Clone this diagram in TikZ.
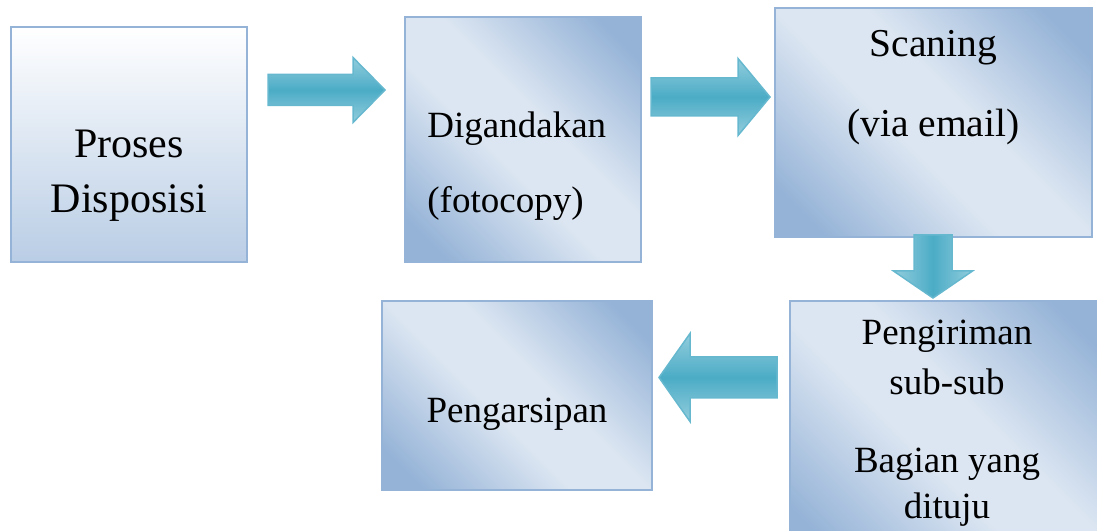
\documentclass[tikz,border=0pt]{standalone}
\usepackage{fontspec}
\setmainfont{Liberation Serif}
\usetikzlibrary{calc}

\definecolor{boxedge}{HTML}{95B3D7}
\definecolor{boxdark}{HTML}{95B3D7}
\definecolor{boxlight}{HTML}{DCE6F2}
\definecolor{boxlow}{HTML}{B9CDE5}
\definecolor{arrowmid}{HTML}{4BACC6}
\definecolor{arrowlight}{HTML}{93CDDD}

% dark corners, wide light band
\pgfdeclareverticalshading{diagshade}{100bp}{color(0bp)=(boxdark); color(21bp)=(boxdark); color(44bp)=(boxlight); color(56bp)=(boxlight); color(79bp)=(boxdark); color(100bp)=(boxdark)}

\tikzset{
  box/.style={rectangle, draw=boxedge, line width=1pt, inner sep=0pt},
  fadebox/.style={box, top color=white, bottom color=boxlow},
  diagbox/.style={box, shade, shading=diagshade, shading angle=-45},
  txt/.style={anchor=base, inner sep=0pt, font=\fontsize{18.5}{18.5}\selectfont},
  fatarrow/.style={draw=arrowmid!85!white, line width=0.75pt, top color=arrowlight, bottom color=arrowlight, middle color=arrowmid},
  fatarrow down/.style={draw=arrowmid!85!white, line width=0.75pt, left color=arrowlight, right color=arrowlight, middle color=arrowmid}
}

\begin{document}
\begin{tikzpicture}[x=0.5pt, y=0.5pt]
\clip (0,0) rectangle (1097,530);
% boxes
\node[fadebox, minimum width=118pt, minimum height=117.5pt] (disp) at (129,385.5) {};
\node[diagbox, minimum width=118pt, minimum height=122.5pt] (ganda) at (523,390.5) {};
\node[diagbox, minimum width=158.5pt, minimum height=114.5pt] (scan) at (933.5,407.5) {};
\node[diagbox, minimum width=157pt, minimum height=129.5pt] (kirim) at (947,99.5) {};
\node[diagbox, minimum width=135pt, minimum height=94.5pt] (arsip) at (517,134.5) {};
% texts
\node[txt, font=\fontsize{21}{21}\selectfont] (disp1) at (129,372) {Proses};
\node[txt, font=\fontsize{21}{21}\selectfont] (disp2) at (129,317) {Disposisi};
\node[txt, anchor=base west] (ganda1) at (427,392) {Digandakan};
\node[txt, anchor=base west] (ganda2) at (427,317) {(fotocopy)};
\node[txt, font=\fontsize{19.75}{19.75}\selectfont] (scan1) at (933.5,473) {Scaning};
\node[txt, font=\fontsize{19.75}{19.75}\selectfont] (scan2) at (933.5,393) {(via email)};
\node[txt] (kirim1) at (947,185) {Pengiriman};
\node[txt] (kirim2) at (947,135) {sub-sub};
\node[txt] (kirim3) at (947,58) {Bagian yang};
\node[txt] (kirim4) at (947,12) {dituju};
\node[txt] (arsip1) at (517,107) {Pengarsipan};
% block arrows
\coordinate (a1) at (268,440);
\coordinate (a2) at (651,433);
\coordinate (a3) at (933,295);
\coordinate (a4) at (777,152.5);
\shade[fatarrow] (a1) -- ++(0,15.5) -- ++(85,0) -- ++(0,17) -- ++(32,-32.5) -- ++(-32,-32.5) -- ++(0,17) -- ++(-85,0) -- cycle;
\shade[fatarrow] (a2) -- ++(0,19) -- ++(87,0) -- ++(0,19.5) -- ++(32,-38.5) -- ++(-32,-38.5) -- ++(0,19.5) -- ++(-87,0) -- cycle;
\shade[fatarrow down] (a3) -- ++(19,0) -- ++(0,-36) -- ++(20.5,0) -- ++(-39.5,-27) -- ++(-39.5,27) -- ++(20.5,0) -- ++(0,36) -- cycle;
\shade[fatarrow] (a4) -- ++(0,20.5) -- ++(-87,0) -- ++(0,23.5) -- ++(-31,-44) -- ++(31,-44) -- ++(0,23.5) -- ++(87,0) -- cycle;
\end{tikzpicture}
\end{document}
